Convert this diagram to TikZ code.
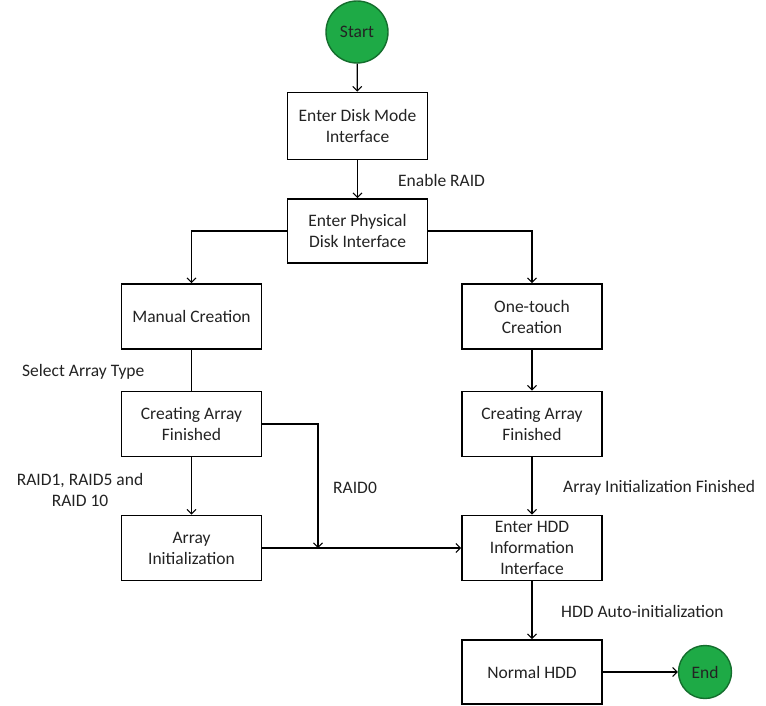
\documentclass[tikz,border=0pt]{standalone}
\usepackage{fontspec}
\setmainfont{Carlito}
\usetikzlibrary{arrows.meta}
\definecolor{txt}{RGB}{35,35,35}
\definecolor{gfill}{RGB}{30,170,70}
\definecolor{gline}{RGB}{20,110,45}
\begin{document}
\begin{tikzpicture}[x=1pt,y=-1pt,
  every node/.style={font=\fontsize{17.5}{21}\selectfont, text=txt},
  box/.style={draw=black, line width=1.8pt, minimum width=140pt, minimum height=65pt, align=center, inner sep=2pt},
  term/.style={circle, draw=gline, line width=1.4pt, fill=gfill, inner sep=0pt},
  conn/.style={line width=1.3pt, draw=black},
  arr/.style={conn, -{Straight Barb[length=4.5pt,width=9pt,line width=1pt]}},
  lbl/.style={anchor=west, inner sep=0pt}]
\useasboundingbox (0,0) rectangle (766,706);
\fill[white] (0,0) rectangle (766,706);

\node[term, minimum size=62pt] (start) at (357,32) {Start};
\node[box, minimum height=67pt] (disk) at (357.5,126) {Enter Disk Mode\\Interface};
\node[box, minimum height=64pt] (phys) at (357.5,231) {Enter Physical\\Disk Interface};
\node[box] (manual) at (191.5,316.5) {Manual Creation};
\node[box] (onetouch) at (532,316.5) {One-touch\\Creation};
\node[box] (caf1) at (191.5,424) {Creating Array\\Finished};
\node[box] (caf2) at (532,424) {Creating Array\\Finished};
\node[box] (arrinit) at (191.5,548) {Array\\Initialization};
\node[box] (hdd) at (532,548) {Enter HDD\\Information\\Interface};
\node[box, minimum height=64pt] (normal) at (532,672) {Normal HDD};
\node[term, minimum size=53pt] (end) at (705,672) {End};

\coordinate (raid0) at (318,548);

\draw[arr] (start) -- (disk);
\draw[arr] (disk) -- (phys);
\draw[arr] (phys.west) -| (manual.north);
\draw[arr] (phys.east) -| (onetouch.north);
\draw[conn] (manual) -- (caf1);
\draw[arr] (caf1) -- (arrinit);
\draw[arr] (caf1.east) -| (raid0);
\draw[arr] (arrinit) -- (hdd);
\draw[arr] (onetouch) -- (caf2);
\draw[arr] (caf2) -- (hdd);
\draw[arr] (hdd) -- (normal);
\draw[arr] (normal) -- (end);

\node[lbl] (l1) at (398,180) {Enable RAID};
\node[lbl] (l2) at (22,372) {Select Array Type};
\node[align=center, inner sep=0pt] (l3) at (80,490) {RAID1, RAID5 and\\RAID 10};
\node[lbl] (l4) at (333,488) {RAID0};
\node[lbl] (l5) at (563,488) {Array Initialization Finished};
\node[lbl] (l6) at (561,611) {HDD Auto-initialization};
\end{tikzpicture}
\end{document}
